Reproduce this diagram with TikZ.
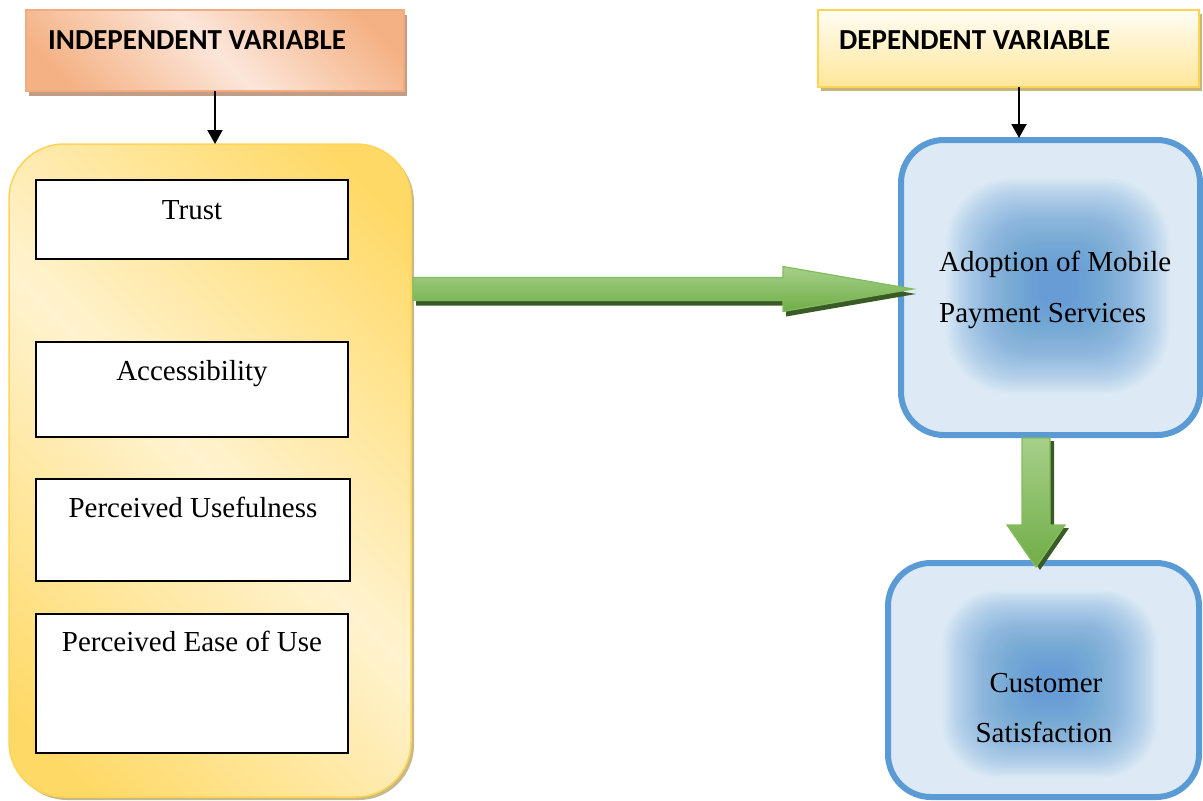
\documentclass[tikz,border=0pt]{standalone}
\usepackage{fontspec}
\setmainfont{Liberation Serif}
\newfontfamily\hdrfont{Carlito}
\usetikzlibrary{calc,shadows,arrows.meta}

\definecolor{salmonD}{HTML}{F4B183}
\definecolor{salmonL}{HTML}{FCE6DA}
\definecolor{salmonEdge}{HTML}{F2AB7E}
\definecolor{salmonShadow}{HTML}{C19C86}
\definecolor{yelD}{HTML}{FFD966}
\definecolor{yelL}{HTML}{FFF3D0}
\definecolor{yelEdge}{HTML}{FFD455}
\definecolor{yelShadow}{HTML}{C8B98A}
\definecolor{hdrYelTop}{HTML}{FFFDF4}
\definecolor{hdrYelBot}{HTML}{FFE699}
\definecolor{hdrYelShadow}{HTML}{C6B47C}
\definecolor{blueEdge}{HTML}{5B9BD5}
\definecolor{blueL}{HTML}{DDEAF6}
\definecolor{greenM}{HTML}{70AD47}
\definecolor{greenL}{HTML}{A6D08A}
\definecolor{greenEdge}{HTML}{82BC5C}
\definecolor{greenShadow}{HTML}{3A5A26}

% diagonal light band between two darker corners
\pgfdeclarehorizontalshading{salmonband}{100bp}{color(0bp)=(salmonD); color(22bp)=(salmonD); color(50bp)=(salmonL); color(78bp)=(salmonD); color(100bp)=(salmonD)}
\pgfdeclarehorizontalshading{yellowband}{100bp}{color(0bp)=(yelD); color(20bp)=(yelD); color(50bp)=(yelL); color(80bp)=(yelD); color(100bp)=(yelD)}

% right-pointing block arrow from #1 (shaft start) to #2 (tip)
\newcommand{\rblock}[2]{($(#1)+(0,-11.5)$) -- ($(#2)+(-130,-11.5)$) -- ($(#2)+(-130,-22.5)$) -- (#2) -- ($(#2)+(-130,22.5)$) -- ($(#2)+(-130,11.5)$) -- ($(#1)+(0,11.5)$) -- cycle}
% downward block arrow from #1 (shaft start) to #2 (tip)
\newcommand{\dblock}[2]{($(#1)+(-14,0)$) -- ($(#2)+(-14,-42)$) -- ($(#2)+(-29,-42)$) -- (#2) -- ($(#2)+(29,-42)$) -- ($(#2)+(14,-42)$) -- ($(#1)+(14,0)$) -- cycle}

\tikzset{
  frame/.style={rectangle, inner sep=0pt, outer sep=0pt},
  hdrsalmon/.style={frame, draw=salmonEdge, line width=1.5pt, shading=salmonband, shading angle=45,
    drop shadow={shadow xshift=3pt, shadow yshift=-5pt, fill=salmonShadow, opacity=1}},
  hdryellow/.style={frame, draw=yelEdge, line width=1.5pt, top color=hdrYelTop, bottom color=hdrYelBot,
    drop shadow={shadow xshift=3pt, shadow yshift=-4pt, fill=hdrYelShadow, opacity=1}},
  bigyellow/.style={frame, draw=yelEdge, line width=1.5pt, shading=yellowband, shading angle=45,
    rounded corners=55pt,
    drop shadow={shadow xshift=3pt, shadow yshift=-3pt, fill=yelShadow, opacity=1}},
  itembox/.style={frame, draw=black, line width=1.6pt, fill=white},
  bluebox/.style={frame, draw=blueEdge, line width=6pt, fill=blueL, rounded corners=43pt},
  bodytext/.style={font=\fontsize{29}{34}\selectfont, inner sep=0pt, anchor=base},
  hdrtext/.style={font=\hdrfont\bfseries\fontsize{29}{34}\selectfont, inner sep=0pt, anchor=base west},
  link/.style={line width=2pt, -{Triangle[width=15pt,length=14pt]}},
  greenbody/.style={draw=greenEdge, line width=1.2pt, top color=greenL, bottom color=greenM},
  greenshade/.style={fill=greenShadow},
}

% soft blue glow: many faint rounded rectangles stacked around #1, half sizes #2 and #3
\newcommand{\blueglow}[3]{%
  \foreach \k in {0,...,47}{%
    \pgfmathsetmacro{\fw}{#2*(1-\k/56)}%
    \pgfmathsetmacro{\fh}{#3*(1-\k/56)}%
    \pgfmathsetmacro{\fr}{0.6*min(\fw,\fh)}%
    \fill[blueEdge, fill opacity=0.036, rounded corners=\fr pt]
      ($(#1)+(-\fw,-\fh)$) rectangle ($(#1)+(\fw,\fh)$);
  }%
}

\begin{document}
\begin{tikzpicture}[x=1pt, y=-1pt]
\useasboundingbox (0,0) rectangle (1203,801);

% headers
\node[hdrsalmon, minimum width=378pt, minimum height=81pt] (ind) at (215,50.5) {};
\node[hdrtext] (indt) at (48,49) {INDEPENDENT VARIABLE};
\node[hdryellow, minimum width=381pt, minimum height=77pt] (dep) at (1008.5,48.5) {};
\node[hdrtext] (dept) at (839,49) {DEPENDENT VARIABLE};

% independent variables panel
\node[bigyellow, minimum width=402pt, minimum height=653pt] (ybox) at (210,470.5) {};
\node[itembox, minimum width=312pt, minimum height=79pt] (trust) at (192,219.5) {};
\node[itembox, minimum width=312pt, minimum height=95pt] (access) at (192,389.5) {};
\node[itembox, minimum width=314pt, minimum height=102pt] (useful) at (193,530) {};
\node[itembox, minimum width=312pt, minimum height=139pt] (ease) at (192,683.5) {};
\node[bodytext] (trustt) at (192,219) {Trust};
\node[bodytext] (accesst) at (192,380) {Accessibility};
\node[bodytext] (usefult) at (193,517) {Perceived Usefulness};
\node[bodytext] (easet) at (192,651) {Perceived Ease of Use};

% dependent side
\node[bluebox, minimum width=299pt, minimum height=295pt] (abox) at (1050.5,287.5) {};
\node[bluebox, minimum width=311pt, minimum height=234pt] (cbox) at (1043.5,680) {};
\coordinate (aglow) at (1058,286);
\coordinate (cglow) at (1050,684);
\blueglow{aglow}{112}{108}
\blueglow{cglow}{108}{94}
\node[bodytext, anchor=base west] (adopt1) at (939,271) {Adoption of Mobile};
\node[bodytext, anchor=base west] (adopt2) at (939,322) {Payment Services};
\node[bodytext] (cust1) at (1046,692) {Customer};
\node[bodytext] (cust2) at (1044,742) {Satisfaction};

% thin links from the headers
\draw[link] (ind.south) -- (ind.south |- ybox.north);
\coordinate (depfoot) at ($(dep.south)+(10.5,0)$);
\draw[link] (depfoot) -- ($(depfoot |- abox.north)+(0,-2)$);

% block arrow: independent -> adoption
\coordinate (ga) at ($(ybox.east |- abox.west)+(2,1.5)$);
\coordinate (gb) at ($(abox.west)+(12,1.5)$);
\coordinate (gas) at ($(ga)+(3,5)$);
\coordinate (gbs) at ($(gb)+(3,5)$);
\fill[greenshade] \rblock{gas}{gbs};
\draw[greenbody] \rblock{ga}{gb};

% block arrow: adoption -> satisfaction
\coordinate (da) at ($(abox.south)+(-14.5,3)$);
\coordinate (db) at ($(cbox.north)+(-7.5,4)$);
\coordinate (das) at ($(da)+(4,3)$);
\coordinate (dbs) at ($(db)+(4,3)$);
\fill[greenshade] \dblock{das}{dbs};
\draw[greenbody] \dblock{da}{db};
\end{tikzpicture}
\end{document}
